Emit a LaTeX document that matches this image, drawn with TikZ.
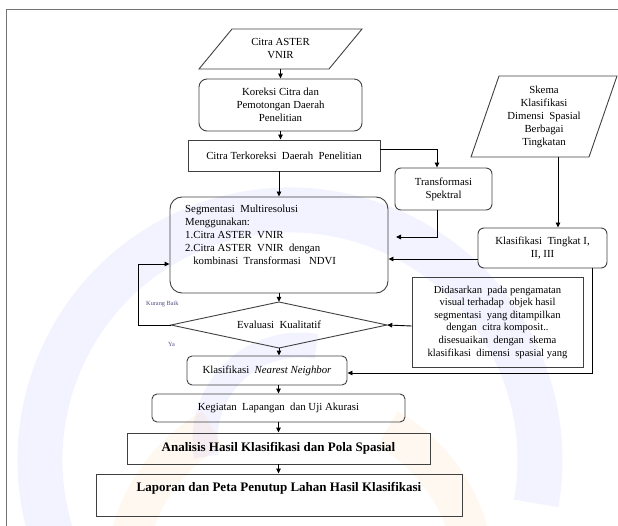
\documentclass[tikz,border=0pt]{standalone}
\usepackage{fontspec}
\setmainfont{Liberation Serif}
\usetikzlibrary{arrows.meta,calc}
\begin{document}
\begin{tikzpicture}[x=1pt,y=-1pt,
  box/.style={draw=black!75, line width=0.9pt, inner sep=0pt, align=center, font=\fontsize{10.8}{13}\selectfont},
  rbox/.style={box, rounded corners=#1},
  shp/.style={draw=black!75, line width=0.9pt},
  txt/.style={inner sep=0pt, align=center, font=\fontsize{10.8}{13}\selectfont},
  arr/.style={draw=black, line width=0.9pt, -{Triangle[length=5pt,width=4.5pt]}},
  lbl/.style={inner sep=0pt, font=\fontsize{6.3}{7}\selectfont, text=blue!30!black!70}
]
\useasboundingbox (0,0) rectangle (618,526);
% watermark
\begin{scope}[opacity=0.06]
  \draw[blue!80, line width=45pt] (290,460) ++(160:250) arc[start angle=160, end angle=370, radius=250];
  \draw[blue!80, line width=25pt] (300,440) ++(170:95) arc[start angle=170, end angle=280, radius=95];
  \draw[orange, line width=40pt] (300,580) ++(178:175) arc[start angle=178, end angle=240, radius=175];
  \draw[orange, line width=40pt] (300,580) ++(300:175) arc[start angle=300, end angle=365, radius=175];
\end{scope}
% frame
\draw[black!55, line width=1pt] (6,540) -- (6,10) -- (630,10);

% Citra ASTER VNIR
\draw[shp] (232,29) -- (362,29) -- (329,69) -- (199,69) -- cycle;
\node[txt, minimum width=130pt, minimum height=40pt] (citra) at (280.5,49) {Citra ASTER\\VNIR};
% Koreksi
\node[rbox=8pt, minimum width=163pt, minimum height=52pt] (kor) at (280.5,105) {Koreksi Citra dan\\Pemotongan Daerah\\Penelitian};
% Citra terkoreksi
\node[box, minimum width=192pt, minimum height=31pt] (terk) at (284,155.5) {Citra Terkoreksi\ \ Daerah\ \ Penelitian};
% Segmentasi
\node[rbox=12pt, minimum width=218pt, minimum height=96pt] (seg) at (279,245) {};
\node[txt, anchor=north west, align=left] (segt) at (185,205) {Segmentasi\ \ Multiresolusi\\Menggunakan:\\1.Citra ASTER\ \ VNIR\\2.Citra ASTER\ \ VNIR\ \ dengan\\\ \ \ kombinasi\ \ Transformasi\ \ \ NDVI};
% Diamond
\draw[shp] (171,325) -- (279,302) -- (387,325) -- (279,348) -- cycle;
\node[txt, minimum width=216pt, minimum height=46pt] (eval) at (279,325) {Evaluasi\ \ Kualitatif};
% NN
\node[rbox=5pt, minimum width=160pt, minimum height=29pt] (nn) at (267,370.5) {Klasifikasi\ \ \textit{Nearest Neighbor}};
% Kegiatan
\node[rbox=5pt, minimum width=253pt, minimum height=28pt] (keg) at (278.5,408) {Kegiatan\ \ Lapangan\ \ dan Uji Akurasi};
% Analisis
\node[box, minimum width=303pt, minimum height=31pt, font=\bfseries\fontsize{13}{15}\selectfont] (anal) at (278.5,448.5) {Analisis Hasil Klasifikasi dan Pola Spasial};
% Laporan
\node[box, minimum width=366pt, minimum height=42pt] (lap) at (279,495) {};
\node[txt, font=\bfseries\fontsize{13}{15}\selectfont] (lapt) at (279,488) {Laporan dan Peta Penutup Lahan Hasil Klasifikasi};

% Skema
\draw[shp] (499,76) -- (617,76) -- (589,157) -- (471,157) -- cycle;
\node[txt, minimum width=118pt, minimum height=81pt] (skema) at (544,116.5) {Skema\\Klasifikasi\\Dimensi\ \ Spasial\\Berbagai\\Tingkatan};
% Tingkat
\node[rbox=6pt, minimum width=129pt, minimum height=40pt] (ting) at (542.5,248) {Klasifikasi\ \ Tingkat I,\\II, III};
% Transformasi
\node[rbox=6pt, minimum width=97pt, minimum height=42pt] (trans) at (443.5,189) {Transformasi\\Spektral};
% Didasarkan
\node[box, minimum width=171pt, minimum height=90pt, font=\fontsize{10.6}{12.6}\selectfont] (did) at (497.5,322) {Didasarkan\ \ pada pengamatan\\visual terhadap\ \ objek hasil\\segmentasi\ \ yang ditampilkan\\dengan\ \ citra komposit..\\disesuaikan\ \ dengan\ \ skema\\klasifikasi\ \ dimensi\ \ spasial yang};

% labels
\node[lbl, anchor=west] (kb) at (146,304) {Kurang Baik};
\node[lbl, anchor=west] (ya) at (168,344) {Ya};

% coordinates
\coordinate (c1) at (terk.east |- 0,149);
\coordinate (c2) at (437,149);
\coordinate (c3) at (437,237);
\coordinate (c4) at (396,237);
\coordinate (c5) at (ting.west |- 0,259);
\coordinate (c6) at (seg.east |- 0,259);
\coordinate (c7) at (592,268);
\coordinate (c8) at (592,373);
\coordinate (c9) at (nn.east |- 0,373);
\coordinate (c10) at (138,325);
\coordinate (c11) at (138,264);
\coordinate (c12) at (seg.west |- 0,264);
\coordinate (c13) at (did.west |- 0,326);

% arrows
\draw[arr] (citra.south) -- (kor.north);
\draw[arr] (kor.south) -- (terk.north -| kor.south);
\draw[arr] (terk.south -| seg.north) -- (seg.north);
\draw[arr] (c1) -- (c2) -- (c2 |- trans.north);
\draw[arr] (c2 |- trans.south) -- (c3) -- (c4);
\draw[arr] (skema.south -| 558,0) -- (ting.north -| 558,0);
\draw[arr] (c5) -- (c6);
\draw[arr] (c7) -- (c8) -- (c9);
\draw[arr] (c13) -- (eval.east);
\draw[arr] (seg.south) -- (eval.north);
\draw[arr] (eval.west) -- (c10) -- (c11) -- (c12);
\draw[arr] (eval.south) -- (nn.north -| eval.south);
\draw[arr] (nn.south -| keg.north) -- (keg.north);
\draw[arr] (keg.south) -- (anal.north);
\draw[arr] (anal.south) -- (anal.south |- lap.north);
\end{tikzpicture}
\end{document}
